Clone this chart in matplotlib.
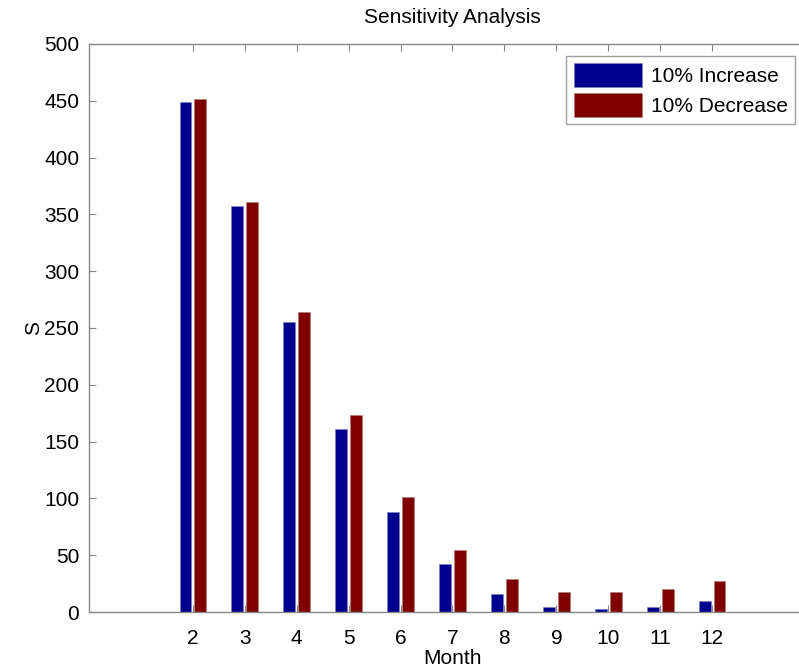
import matplotlib
matplotlib.use("Agg")
import matplotlib.pyplot as plt
import numpy as np

months = [2, 3, 4, 5, 6, 7, 8, 9, 10, 11, 12]
increase = [449, 357, 255, 161, 88, 42, 15.5, 4, 2.3, 4, 10]
decrease = [451.5, 361, 264, 173, 101, 55, 28.8, 17.3, 17.3, 20, 27.3]
series_names = ["10% Increase", "10% Decrease"]

plt.rcParams['font.family'] = ['Liberation Sans', 'DejaVu Sans']

fig = plt.figure(figsize=(7.99, 6.69), dpi=100)
ax = fig.add_axes([89/799, 1-612/669, (816-89)/799, (612-44)/669])

x = np.array(months, dtype=float)
w = 0.2286
off = 0.1429
ax.bar(x - off, increase, width=w, color='#00008f', edgecolor='#8080c0', linewidth=0.5, label=series_names[0])
ax.bar(x + off, decrease, width=w, color='#800000', edgecolor='#b08080', linewidth=0.5, label=series_names[1])

ax.set_xlim(0, 14)
ax.set_ylim(0, 500)
ax.set_xticks(months)
ax.set_yticks(np.arange(0, 501, 50))
for s in ax.spines.values():
    s.set_color('#888888')
    s.set_linewidth(1)
ax.tick_params(direction='in', top=True, right=True, colors='#888888', labelcolor='black',
               labelsize=15, length=5)
ax.tick_params(axis='x', pad=12)
ax.tick_params(axis='y', pad=7)
ax.set_title("Sensitivity Analysis", fontsize=15, pad=15)
ax.set_xlabel("Month", fontsize=15, labelpad=1)
ax.set_ylabel("S", fontsize=15, labelpad=1)

leg = ax.legend(loc='upper right', bbox_to_anchor=(795/799, 1-56/669), bbox_transform=fig.transFigure,
                fontsize=15, frameon=True, fancybox=False, edgecolor='#888888',
                handlelength=3.3, handleheight=1.4, borderaxespad=0, borderpad=0.35, labelspacing=0.25,
                handletextpad=0.4)
leg.get_frame().set_linewidth(1)

fig.savefig("out.png", dpi=100)
